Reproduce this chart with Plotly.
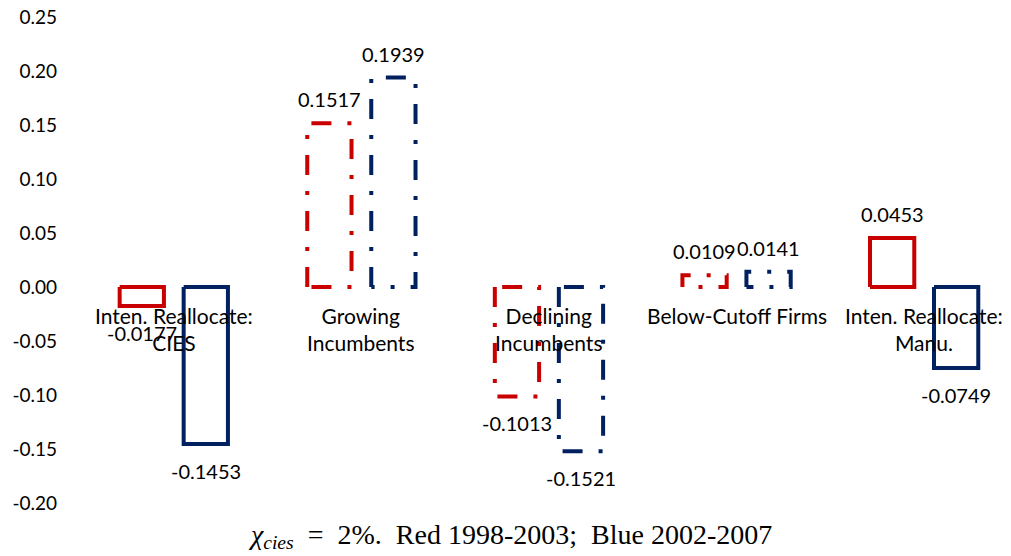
import plotly.graph_objects as go

categories = ["Inten. Reallocate:<br>CIES", "Growing<br>Incumbents", "Declining<br>Incumbents",
              "Below-Cutoff Firms", "Inten. Reallocate:<br>Manu."]
red_values = [-0.0177, 0.1517, -0.1013, 0.0109, 0.0453]
blue_values = [-0.1453, 0.1939, -0.1521, 0.0141, -0.0749]
red_labels = ["-0.0177", "0.1517", "-0.1013", "0.0109", "0.0453"]
blue_labels = ["-0.1453", "0.1939", "-0.1521", "0.0141", "-0.0749"]
bar_styles = ["solid", "dashdot", "dashdot", "dashdot", "solid"]
y_tick_vals = [-0.20, -0.15, -0.10, -0.05, 0.00, 0.05, 0.10, 0.15, 0.20, 0.25]
y_tick_text = ["-0.20", "-0.15", "-0.10", "-0.05", "0.00", "0.05", "0.10", "0.15", "0.20", "0.25"]
title_text = ("<i>χ</i><sub><i>cies</i></sub>&nbsp;&nbsp;=&nbsp;&nbsp;2%.&nbsp;&nbsp;"
              "Red 1998-2003;&nbsp;&nbsp;Blue 2002-2007")

RED = "#C80000"
BLUE = "#002060"
FONT = "Lato"
DASHES = {"solid": "solid", "dashdot": "20px,16px,4px,16px"}
OFFSET = 0.1706
HALF_W = 0.118

fig = go.Figure()
annotations = []
for i, cat in enumerate(categories):
    for vals, labs, color, sign in [(red_values, red_labels, RED, -1), (blue_values, blue_labels, BLUE, 1)]:
        v = vals[i]
        xc = i + sign * OFFSET
        x0, x1 = xc - HALF_W, xc + HALF_W
        fig.add_trace(go.Scatter(
            x=[x0, x0, x1, x1, x0], y=[0, v, v, 0, 0], mode="lines",
            line=dict(color=color, width=4, dash=DASHES[bar_styles[i]]),
            showlegend=False, hoverinfo="skip"))
        annotations.append(dict(
            x=xc, y=v, xref="x", yref="y", text=labs[i], showarrow=False,
            yanchor="middle", yshift=24 if v > 0 else -27,
            font=dict(family=FONT, size=20, color="black")))
    annotations.append(dict(
        x=i, y=0, xref="x", yref="y", text=cat, showarrow=False,
        yanchor="top", yshift=-14,
        font=dict(family=FONT, size=21, color="black")))

fig.update_layout(
    width=1011, height=556,
    margin=dict(l=80, r=0, t=17, b=53),
    plot_bgcolor="white", paper_bgcolor="white",
    annotations=annotations,
    title=dict(text=title_text, x=0.506, y=0.04, xref="container", yref="container",
               xanchor="center", yanchor="middle",
               font=dict(family="Liberation Serif", size=28, color="black")),
    xaxis=dict(range=[-0.5, 4.463], showticklabels=False, showgrid=False, zeroline=False,
               showline=False, ticks=""),
    yaxis=dict(range=[-0.20, 0.25], tickvals=y_tick_vals, ticktext=y_tick_text,
               showgrid=False, zeroline=False, showline=False, ticks="",
               ticklabelstandoff=22,
               tickfont=dict(family=FONT, size=19, color="black")),
)

fig.write_html("out.html", config={"displayModeBar": False},
               post_script="document.body.style.margin='0';document.body.style.overflow='hidden';")
